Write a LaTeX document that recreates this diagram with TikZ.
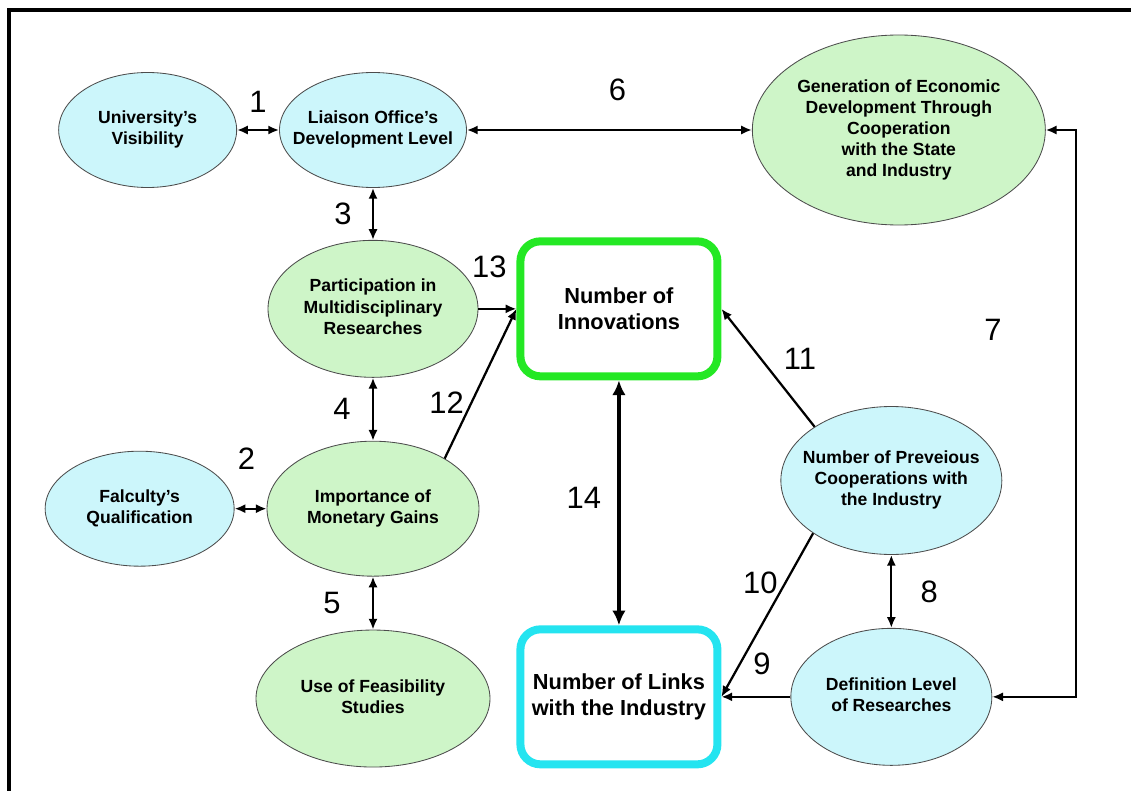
\documentclass[tikz,border=0pt]{standalone}
\usepackage{fontspec}
\setmainfont{Liberation Sans}
\usetikzlibrary{positioning,shapes.geometric,arrows.meta}
\definecolor{paleblue}{RGB}{204,246,251}
\definecolor{palegreen}{RGB}{206,245,200}
\definecolor{brightgreen}{RGB}{36,232,36}
\definecolor{brightcyan}{RGB}{36,228,240}
\newcommand\ovaltext[1]{\makebox[0pt]{\begin{tabular}{@{}c@{}}#1\end{tabular}}}
\tikzset{
  factor/.style={ellipse, draw=black!70, line width=0.6pt, inner sep=0pt,
    font=\fontsize{12.5}{15}\selectfont\bfseries},
  bluefactor/.style={factor, fill=paleblue},
  greenfactor/.style={factor, fill=palegreen},
  result/.style={rectangle, rounded corners=0.5cm, line width=0.2cm, fill=white, align=center,
    minimum width=4.925cm, minimum height=3.375cm, font=\fontsize{15.5}{19}\selectfont\bfseries},
  link/.style={line width=1.6pt, -{Latex[length=2.7mm,width=2.3mm]}},
  twoway/.style={line width=1.6pt, {Latex[length=2.7mm,width=2.3mm]}-{Latex[length=2.7mm,width=2.3mm]}},
  bigtwoway/.style={line width=3.4pt, {Latex[length=3.7mm,width=3.4mm]}-{Latex[length=3.7mm,width=3.4mm]}},
  num/.style={font=\fontsize{22}{22}\selectfont, inner sep=0pt}
}
\begin{document}
\begin{tikzpicture}
  \useasboundingbox (0,0) rectangle (28.275,-19.775);
  \draw[line width=2.4pt] (28.275,-0.25) -- (0.225,-0.25) -- (0.225,-19.775);

  \node[bluefactor, minimum width=4.675cm, minimum height=2.875cm] (liaison) at (9.325,-3.25) {\ovaltext{Liaison Office’s\\Development Level}};
  \node[bluefactor, minimum width=4.45cm, minimum height=2.875cm, left=1.05cm of liaison] (univ) {\ovaltext{University’s\\Visibility}};
  \node[greenfactor, minimum width=7.325cm, minimum height=4.75cm, right=7.125cm of liaison] (econ) {\ovaltext{Generation of Economic\\Development Through\\Cooperation\\with the State\\and Industry}};
  \node[greenfactor, minimum width=5.25cm, minimum height=3.425cm, below=1.3cm of liaison] (partic) {\ovaltext{Participation in\\Multidisciplinary\\Researches}};
  \node[greenfactor, minimum width=5.3cm, minimum height=3.375cm, below=1.575cm of partic] (money) {\ovaltext{Importance of\\Monetary Gains}};
  \node[bluefactor, minimum width=4.725cm, minimum height=2.875cm, left=0.8cm of money] (faculty) {\ovaltext{Falculty’s\\Qualification}};
  \node[greenfactor, minimum width=5.85cm, minimum height=3.425cm, below=1.325cm of money] (feasib) {\ovaltext{Use of Feasibility\\Studies}};
  \node[result, draw=brightgreen, right=0.95cm of partic] (innov) {Number of\\Innovations};
  \node[result, draw=brightcyan, below=6.125cm of innov] (links) {Number of Links\\with the Industry};
  \node[bluefactor, minimum width=5.025cm, minimum height=3.425cm, right=1.725cm of links] (defin) {\ovaltext{Definition Level\\of Researches}};
  \node[bluefactor, minimum width=5.525cm, minimum height=3.7cm, above=1.825cm of defin] (prevcoop) {\ovaltext{Number of Preveious\\Cooperations with\\the Industry}};

  \draw[twoway] (univ) -- node[num, yshift=0.7cm] (l1) {1} (liaison);
  \draw[twoway] (faculty) -- node[num, xshift=-0.1cm, yshift=1.25cm] (l2) {2} (money);
  \draw[twoway] (liaison) -- node[num, xshift=-0.75cm] (l3) {3} (partic);
  \draw[twoway] (partic) -- node[num, xshift=-0.775cm] (l4) {4} (money);
  \draw[twoway] (money) -- node[num, xshift=-1.025cm] (l5) {5} (feasib);
  \draw[twoway] (liaison) -- node[num, xshift=0.2cm, yshift=1cm] (l6) {6} (econ);
  \coordinate[right=2.1cm of defin.east] (bend);
  \draw[twoway] (econ.east) -| (bend) -- (defin.east);
  \node[num] (l7) at (24.825,-8.25) {7};
  \draw[twoway] (prevcoop) -- node[num, xshift=0.95cm] (l8) {8} (defin);
  \draw[link] (defin) -- node[num, xshift=0.15cm, yshift=0.825cm] (l9) {9} (links);
  \draw[link] (prevcoop.214) -- node[num, xshift=-0.175cm, yshift=0.8cm] (l10) {10} (links.east);
  \draw[link] (prevcoop.145) -- node[num, xshift=0.8cm, yshift=0.225cm] (l11) {11} (innov.east);
  \draw[link] (money.35) -- node[num, xshift=-0.85cm, yshift=-0.475cm] (l12) {12} (innov.west);
  \draw[link] (partic) -- node[num, xshift=-0.2cm, yshift=1.05cm] (l13) {13} (innov);
  \draw[bigtwoway] (innov) -- node[num, xshift=-0.875cm, yshift=0.125cm] (l14) {14} (links);
\end{tikzpicture}
\end{document}
